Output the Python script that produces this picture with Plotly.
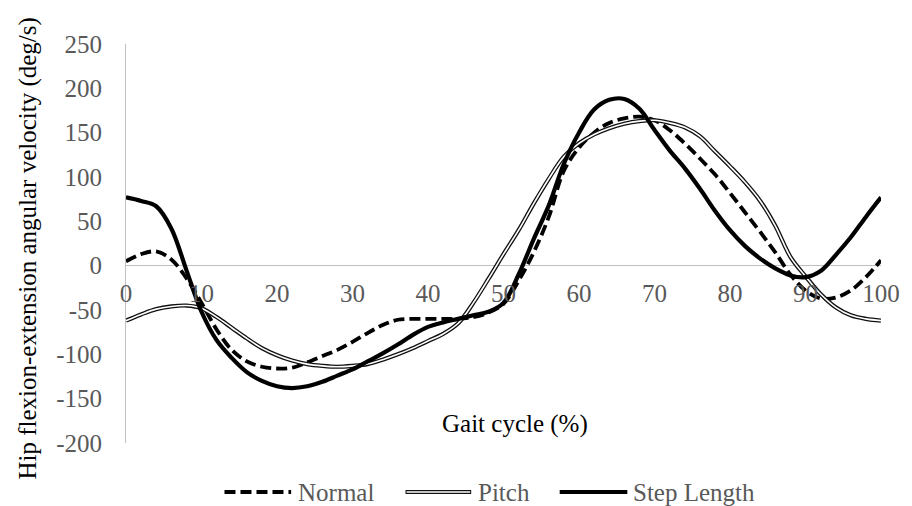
import plotly.graph_objects as go

gait = list(range(0, 101, 2))

normal = [5, 13, 16, 7, -14, -42, -72, -95, -108, -114, -116, -115, -109, -102, -95, -86,
          -76, -67, -61, -60, -60, -60, -60, -58, -53, -43, -17, 15, 55, 107, 133, 150, 161,
          166, 168, 164, 153, 138, 121, 103, 82, 60, 38, 15, -10, -28, -37, -36, -28, -13, 6]

pitch = [-62, -55, -49, -46, -45, -48, -58, -70, -82, -93, -101, -107, -111, -113, -114, -113,
         -111, -106, -100, -93, -85, -77, -65, -42, -15, 13, 40, 70, 98, 123, 138, 148, 155,
         160, 163, 164, 161, 156, 146, 129, 112, 94, 73, 45, 10, -12, -32, -47, -56, -60, -62]

step_length = [77, 73, 67, 42, -5, -52, -84, -104, -120, -130, -136, -138, -136, -131, -124, -117,
               -108, -99, -89, -78, -69, -64, -60, -56, -52, -42, -10, 30, 68, 115, 150, 176, 187,
               188, 177, 153, 130, 110, 87, 62, 40, 22, 8, -3, -11, -13, -6, 12, 32, 55, 77]

series_names = ["Normal", "Pitch", "Step Length"]
x_ticks = list(range(0, 101, 10))
y_ticks = list(range(-200, 251, 50))

FONT = "Liberation Serif"
GRAY_TXT = "#595959"
AXIS_GRAY = "#bfbfbf"
DASH = "11px,5px"

fig = go.Figure()
fig.add_trace(go.Scatter(x=gait, y=normal, mode="lines", name=series_names[0],
                         line=dict(color="black", width=3.8, dash=DASH, shape="spline", smoothing=1.0),
                         showlegend=False))
fig.add_trace(go.Scatter(x=gait, y=pitch, mode="lines", name=series_names[1],
                         line=dict(color="#111111", width=4.2, shape="spline", smoothing=1.0),
                         showlegend=False))
fig.add_trace(go.Scatter(x=gait, y=pitch, mode="lines", name=series_names[1] + " inner",
                         line=dict(color="white", width=1.6, shape="spline", smoothing=1.0),
                         showlegend=False, hoverinfo="skip"))
fig.add_trace(go.Scatter(x=gait, y=step_length, mode="lines", name=series_names[2],
                         line=dict(color="black", width=4.2, shape="spline", smoothing=1.0),
                         showlegend=False))

L, R, T, B = 126, 27, 44, 63
W, H = 912, 506
pw, ph = W - L - R, H - T - B


def px_x(p):
    return (p - L) / pw


def px_y(p):
    return (H - B - p) / ph


# manual legend (lines + labels)
ly = px_y(492)
shapes = [
    dict(type="line", xref="paper", yref="paper", x0=px_x(225), x1=px_x(292), y0=ly, y1=ly,
         line=dict(color="black", width=3.8, dash=DASH)),
    dict(type="line", xref="paper", yref="paper", x0=px_x(407), x1=px_x(473), y0=ly, y1=ly,
         line=dict(color="#111111", width=4.2)),
    dict(type="line", xref="paper", yref="paper", x0=px_x(408), x1=px_x(472), y0=ly, y1=ly,
         line=dict(color="white", width=1.6)),
    dict(type="line", xref="paper", yref="paper", x0=px_x(562), x1=px_x(630), y0=ly, y1=ly,
         line=dict(color="black", width=4.2)),
]
annotations = [
    dict(text=series_names[0], x=px_x(297), y=ly, xref="paper", yref="paper", showarrow=False,
         xanchor="left", yanchor="middle", font=dict(family=FONT, size=25, color=GRAY_TXT)),
    dict(text=series_names[1], x=px_x(478), y=ly, xref="paper", yref="paper", showarrow=False,
         xanchor="left", yanchor="middle", font=dict(family=FONT, size=25, color=GRAY_TXT)),
    dict(text=series_names[2], x=px_x(634), y=ly, xref="paper", yref="paper", showarrow=False,
         xanchor="left", yanchor="middle", font=dict(family=FONT, size=25, color=GRAY_TXT)),
    dict(text="Gait cycle (%)", x=px_x(517), y=px_y(424), xref="paper", yref="paper",
         showarrow=False, xanchor="center", yanchor="middle",
         font=dict(family=FONT, size=25, color="black")),
    dict(text="Hip flexion-extension angular velocity (deg/s)", x=px_x(27), y=px_y(249),
         xref="paper", yref="paper", showarrow=False, textangle=-90,
         xanchor="center", yanchor="middle", font=dict(family=FONT, size=25, color="black")),
]

fig.update_layout(
    width=W, height=H,
    margin=dict(l=L, r=R, t=T, b=B),
    paper_bgcolor="white", plot_bgcolor="white",
    font=dict(family=FONT, size=25, color=GRAY_TXT),
    showlegend=False,
    shapes=shapes,
    annotations=annotations,
    xaxis=dict(range=[0, 100], tickvals=x_ticks, ticktext=[str(v) for v in x_ticks],
               showgrid=False, zeroline=False, showline=False, ticks="",
               anchor="free", position=200 / 450, ticklabelstandoff=10,
               tickfont=dict(family=FONT, size=25, color=GRAY_TXT)),
    yaxis=dict(range=[-200, 250], tickvals=y_ticks, ticktext=[str(v) for v in y_ticks],
               showgrid=False, zeroline=True, zerolinecolor=AXIS_GRAY, zerolinewidth=1,
               showline=True, linecolor=AXIS_GRAY, linewidth=1, ticks="",
               ticklabelstandoff=18,
               tickfont=dict(family=FONT, size=25, color=GRAY_TXT)),
)

fig.write_html("out.html")
